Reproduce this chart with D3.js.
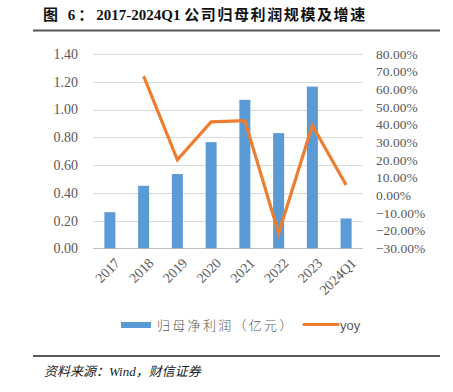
<!DOCTYPE html>
<html><head><meta charset="utf-8">
<script src="https://cdn.jsdelivr.net/npm/d3@7"></script>
<style>body{margin:0;background:#fff}svg{display:block}</style>
</head><body>
<script>
const categories = ["2017","2018","2019","2020","2021","2022","2023","2024Q1"];
const profit = [0.26, 0.45, 0.535, 0.765, 1.07, 0.83, 1.165, 0.215];
const yoy = [null, 67.5, 20.1, 41.6, 42.3, -21.5, 39.5, 5.8];
const leftTicks = [0,0.2,0.4,0.6,0.8,1.0,1.2,1.4];
const rightTicks = [-30,-20,-10,0,10,20,30,40,50,60,70,80];
const titleParts = ["图 6：","2017-2024Q1 ","公司归母利润规模及增速"];
const sourceText = "资料来源：Wind，财信证券";
const legendLabels = ["归母净利润（亿元）","yoy"];

const W=453,H=392;
const svg=d3.select("body").append("svg").attr("width",W).attr("height",H);
const serif="'Liberation Serif','Times New Roman','Noto Sans CJK SC',serif";
const gray="#595959";

const title=svg.append("text").attr("x",43).attr("y",20).attr("font-family",serif).attr("font-weight","bold")
  .attr("font-size",15).attr("fill","#111");
title.append("tspan").attr("letter-spacing",3).text(titleParts[0]);
title.append("tspan").text(titleParts[1]);
title.append("tspan").attr("letter-spacing",1.6).text(titleParts[2]);
svg.append("line").attr("x1",33).attr("x2",440).attr("y1",30.5).attr("y2",30.5).attr("stroke","#555").attr("stroke-width",2);

const x=d3.scaleBand().domain(categories).range([93,363]);
const yL=d3.scaleLinear().domain([0,1.4]).range([248.3,54]);
const yR=d3.scaleLinear().domain([-30,80]).range([248.3,54]);

// grid
svg.append("g").selectAll("line").data(leftTicks).join("line")
  .attr("x1",93).attr("x2",363).attr("y1",d=>Math.round(yL(d))+0.5).attr("y2",d=>Math.round(yL(d))+0.5)
  .attr("stroke",d=>d===0?"#bfbfbf":"#d9d9d9").attr("stroke-width",1);

// left axis
const gl=svg.append("g").attr("transform","translate(78,0)")
  .call(d3.axisLeft(yL).tickValues(leftTicks).tickFormat(d3.format(".2f")).tickSize(0).tickPadding(0));
gl.select(".domain").remove();
gl.selectAll("text").attr("font-family",serif).attr("font-size",14).attr("fill",gray);

// right axis
const gr=svg.append("g").attr("transform","translate(376,0)")
  .call(d3.axisRight(yR).tickValues(rightTicks).tickFormat(d=>d3.format(".2f")(d)+"%").tickSize(0).tickPadding(0));
gr.select(".domain").remove();
gr.selectAll("text").attr("font-family",serif).attr("font-size",13.5).attr("fill",gray);

// bars
const bw=11;
svg.append("g").selectAll("rect").data(profit).join("rect")
  .attr("x",(d,i)=>x(categories[i])+x.bandwidth()/2-bw/2).attr("width",bw)
  .attr("y",d=>yL(d)).attr("height",d=>yL(0)-yL(d)).attr("fill","#5B9BD5");

// line
const line=d3.line().defined(d=>d.v!=null).x(d=>x(d.c)+x.bandwidth()/2).y(d=>yR(d.v));
svg.append("path").datum(categories.map((c,i)=>({c,v:yoy[i]})))
  .attr("d",line).attr("fill","none").attr("stroke","#ED7D31").attr("stroke-width",3.2).attr("stroke-linejoin","miter");

// x labels
svg.append("g").selectAll("text").data(categories).join("text")
  .attr("transform",d=>`translate(${x(d)+x.bandwidth()/2+4},${257}) rotate(-45)`)
  .attr("text-anchor","end").attr("dy","0.7em").attr("font-family",serif).attr("font-size",14).attr("fill",gray).text(d=>d);

// legend
svg.append("rect").attr("x",121).attr("y",322).attr("width",30).attr("height",6).attr("fill","#5B9BD5");
svg.append("text").attr("x",157).attr("y",330).attr("font-family","'Noto Sans CJK SC',sans-serif").attr("font-weight",300)
  .attr("font-size",13).attr("fill",gray).attr("letter-spacing",2.3).text(legendLabels[0]);
svg.append("line").attr("x1",304).attr("x2",338).attr("y1",324.5).attr("y2",324.5).attr("stroke","#ED7D31").attr("stroke-width",3.2).attr("stroke-linecap","round");
svg.append("text").attr("x",340).attr("y",330).attr("font-family","'Liberation Sans',Arial,sans-serif")
  .attr("font-size",13).attr("fill",gray).text(legendLabels[1]);

// bottom
svg.append("line").attr("x1",33).attr("x2",440).attr("y1",356).attr("y2",356).attr("stroke","#222").attr("stroke-width",1.5);
svg.append("text").attr("x",44).attr("y",376).attr("font-family",serif).attr("font-style","italic")
  .attr("font-size",13).attr("fill","#222").text(sourceText);
</script>
</body></html>
